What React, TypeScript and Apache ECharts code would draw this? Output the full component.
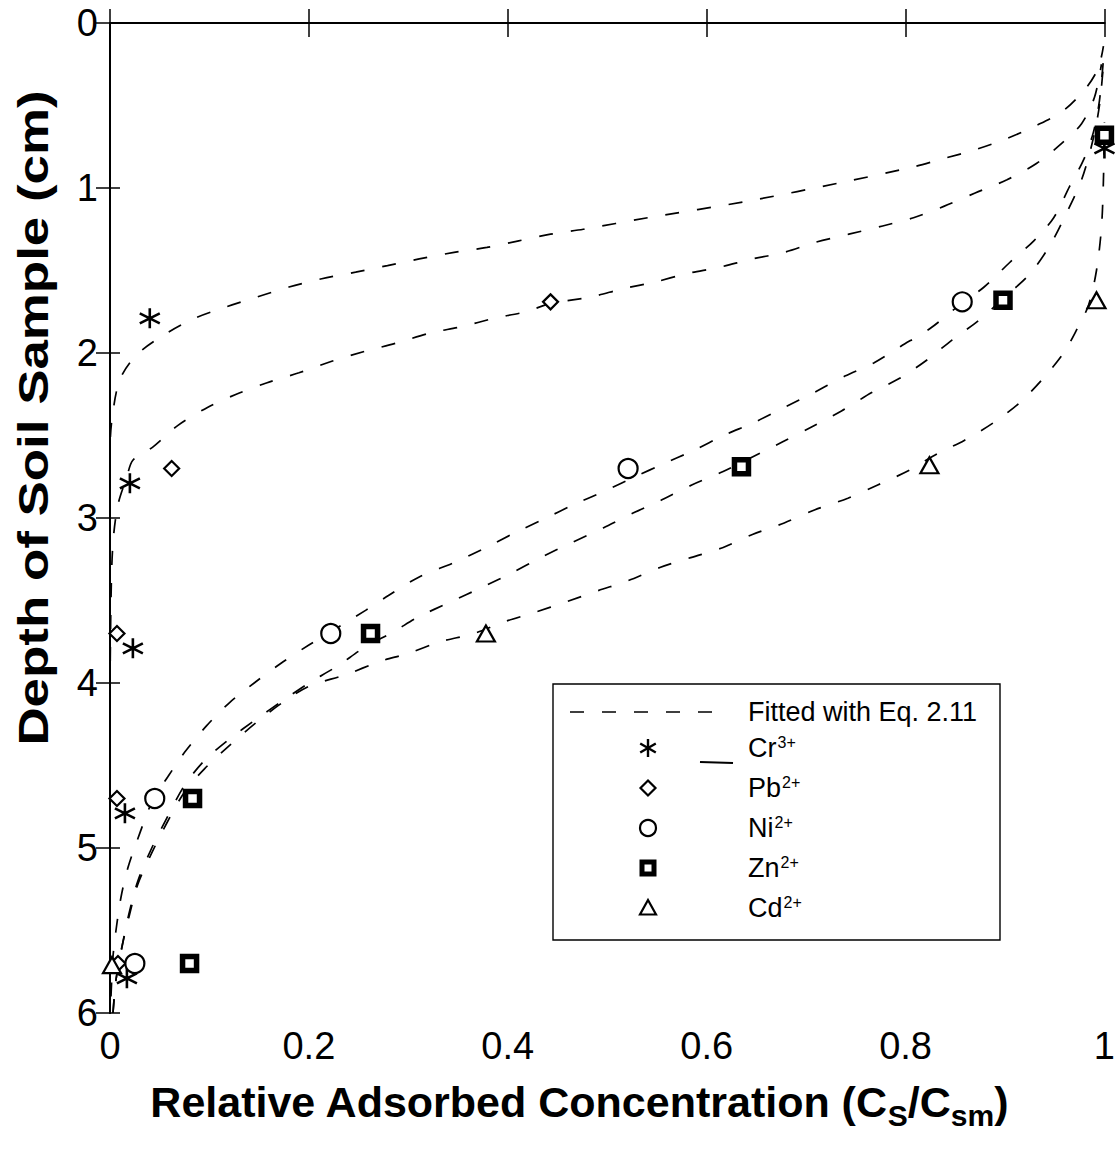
import React, { useEffect, useRef } from 'react';
import * as echarts from 'echarts';

const FIT_NAME = 'Fitted with Eq. 2.11';
const FONT = '"Liberation Sans", Arial, Helvetica, sans-serif';

// Fitted curves [relative concentration, depth]
const crFit: number[][] = [
  [0.0, 6.0], [0.0, 4.0], [0.0, 3.0], [0.0, 2.6], [0.002, 2.4], [0.01, 2.16], [0.027, 2.01], [0.057, 1.88],
  [0.085, 1.79], [0.117, 1.72], [0.148, 1.66], [0.18, 1.6], [0.213, 1.55], [0.247, 1.51], [0.279, 1.47],
  [0.311, 1.43], [0.346, 1.39], [0.379, 1.36], [0.411, 1.32], [0.443, 1.28], [0.476, 1.25], [0.541, 1.18],
  [0.641, 1.08], [0.741, 0.96], [0.809, 0.87], [0.839, 0.82], [0.869, 0.77], [0.902, 0.7], [0.932, 0.62],
  [0.959, 0.53], [0.982, 0.39], [0.994, 0.27], [0.999, 0.14],
];
const pbFit: number[][] = [
  [0.0, 6.0], [0.0, 4.2], [0.001, 3.5], [0.003, 3.15], [0.008, 2.92], [0.017, 2.75], [0.023, 2.65],
  [0.043, 2.57], [0.068, 2.44], [0.098, 2.33], [0.127, 2.25], [0.158, 2.18], [0.19, 2.12], [0.223, 2.05],
  [0.256, 1.99], [0.288, 1.94], [0.321, 1.88], [0.354, 1.84], [0.386, 1.79], [0.418, 1.75], [0.443, 1.7],
  [0.484, 1.66], [0.516, 1.61], [0.548, 1.57], [0.579, 1.52], [0.613, 1.48], [0.646, 1.43], [0.678, 1.39],
  [0.709, 1.33], [0.743, 1.28], [0.777, 1.23], [0.808, 1.18], [0.839, 1.11], [0.87, 1.03], [0.902, 0.95],
  [0.932, 0.85], [0.957, 0.73], [0.977, 0.61], [0.99, 0.45], [0.997, 0.25],
];
const niFit: number[][] = [
  [0.001, 5.9], [0.003, 5.66], [0.006, 5.5], [0.011, 5.3], [0.018, 5.12], [0.03, 4.91], [0.043, 4.71],
  [0.058, 4.57], [0.075, 4.42], [0.097, 4.26], [0.12, 4.12], [0.145, 4.0], [0.172, 3.88], [0.2, 3.77],
  [0.257, 3.56], [0.28, 3.47], [0.31, 3.36], [0.346, 3.27], [0.378, 3.18], [0.407, 3.09], [0.435, 3.01],
  [0.466, 2.92], [0.496, 2.84], [0.528, 2.75], [0.557, 2.67], [0.587, 2.59], [0.617, 2.5], [0.648, 2.42],
  [0.678, 2.33], [0.708, 2.24], [0.739, 2.14], [0.768, 2.06], [0.795, 1.96], [0.825, 1.85], [0.852, 1.72],
  [0.879, 1.6], [0.905, 1.45], [0.929, 1.32], [0.949, 1.18], [0.965, 0.99], [0.979, 0.83], [0.989, 0.66],
  [0.995, 0.47], [0.999, 0.22],
];
const znFit: number[][] = [
  [0.003, 6.0], [0.006, 5.8], [0.012, 5.6], [0.019, 5.4], [0.028, 5.2], [0.042, 5.0], [0.057, 4.82],
  [0.075, 4.62], [0.095, 4.47], [0.12, 4.34], [0.147, 4.22], [0.173, 4.11], [0.2, 4.0], [0.228, 3.9],
  [0.257, 3.78], [0.285, 3.69], [0.31, 3.6], [0.342, 3.51], [0.374, 3.42], [0.405, 3.33], [0.433, 3.24],
  [0.464, 3.15], [0.496, 3.06], [0.526, 2.97], [0.555, 2.89], [0.585, 2.8], [0.616, 2.72], [0.646, 2.63],
  [0.676, 2.54], [0.705, 2.45], [0.736, 2.35], [0.766, 2.24], [0.795, 2.15], [0.822, 2.04], [0.847, 1.92],
  [0.874, 1.8], [0.9, 1.66], [0.925, 1.52], [0.945, 1.35], [0.962, 1.15], [0.977, 0.95], [0.988, 0.72],
  [0.995, 0.5], [0.999, 0.25],
];
const cdFit: number[][] = [
  [0.003, 6.0], [0.006, 5.8], [0.012, 5.6], [0.019, 5.42], [0.028, 5.22], [0.042, 5.03], [0.057, 4.85],
  [0.075, 4.66], [0.095, 4.52], [0.12, 4.38], [0.147, 4.24], [0.173, 4.12], [0.2, 4.02], [0.237, 3.95],
  [0.271, 3.87], [0.3, 3.82], [0.332, 3.75], [0.366, 3.7], [0.396, 3.63], [0.428, 3.57], [0.458, 3.51],
  [0.491, 3.44], [0.521, 3.38], [0.553, 3.3], [0.584, 3.24], [0.616, 3.18], [0.646, 3.1], [0.678, 3.03],
  [0.709, 2.95], [0.742, 2.88], [0.772, 2.8], [0.804, 2.71], [0.832, 2.61], [0.859, 2.53], [0.889, 2.42],
  [0.915, 2.3], [0.939, 2.15], [0.959, 2.0], [0.972, 1.86], [0.984, 1.71], [0.992, 1.5], [0.997, 1.24],
  [0.999, 0.95], [1.0, 0.6],
];

// Measured points
const crPts: number[][] = [[1.0, 0.76], [0.04, 1.79], [0.02, 2.79], [0.023, 3.79], [0.015, 4.79], [0.017, 5.79]];
const pbPts: number[][] = [[0.443, 1.69], [0.062, 2.7], [0.007, 3.7], [0.007, 4.7], [0.008, 5.7]];
const niPts: number[][] = [[0.857, 1.69], [0.521, 2.7], [0.222, 3.7], [0.045, 4.7], [0.025, 5.7]];
const znPts: number[][] = [[1.0, 0.68], [0.898, 1.68], [0.635, 2.69], [0.262, 3.7], [0.083, 4.7], [0.08, 5.7]];
const cdPts: number[][] = [[0.992, 1.68], [0.824, 2.68], [0.378, 3.7], [0.002, 5.71]];

const ionNames = ['Cr', 'Pb', 'Ni', 'Zn', 'Cd'];
const ionCharges = ['3+', '2+', '2+', '2+', '2+'];

const ASTERISK = 'path://M10,0L10,20M1.34,5L18.66,15M1.34,15L18.66,5';

export default function App() {
  const ref = useRef<HTMLDivElement>(null);
  useEffect(() => {
    if (!ref.current) return;
    const chart = echarts.init(ref.current, undefined, { renderer: 'svg' });

    const fitSeries = [crFit, pbFit, niFit, znFit, cdFit].map((d) => ({
      name: FIT_NAME,
      type: 'line',
      data: d,
      symbol: 'none',
      smooth: 0.3,
      silent: true,
      clip: true,
      lineStyle: { color: '#000', width: 1.7, type: [14, 18] },
      z: 2,
    }));

    const pointStyle = { color: '#fff', borderColor: '#000', borderWidth: 2.2, opacity: 1 };
    const scatterSeries = [
      { name: 'Cr', data: crPts, symbol: ASTERISK, symbolSize: 20, itemStyle: { color: 'none', borderColor: '#000', borderWidth: 2.6, opacity: 1 } },
      { name: 'Pb', data: pbPts, symbol: 'diamond', symbolSize: 15, itemStyle: pointStyle },
      { name: 'Ni', data: niPts, symbol: 'circle', symbolSize: 19, itemStyle: pointStyle },
      { name: 'Zn', data: znPts, symbol: 'rect', symbolSize: 14, itemStyle: { color: '#fff', borderColor: '#000', borderWidth: 5.5, opacity: 1 } },
      { name: 'Cd', data: cdPts, symbol: 'triangle', symbolSize: [18, 16], itemStyle: pointStyle },
    ].map((s) => ({ ...s, type: 'scatter', clip: false, silent: true, z: 3 }));

    const axisLine = { show: true, lineStyle: { color: '#000', width: 2 } };
    const axisTick = { show: true, inside: true, length: 14, lineStyle: { color: '#000', width: 1.5 } };
    const labelStyle = { color: '#000', fontSize: 38, fontFamily: FONT };

    const legendX = 553, legendY = 684, legendW = 447, legendH = 256;
    const markX = 648, textX = 748;
    const rows = [748, 788, 828, 868, 908];
    const legendEls: any[] = [
      { type: 'rect', shape: { x: legendX, y: legendY, width: legendW, height: legendH }, style: { fill: '#fff', stroke: '#000', lineWidth: 1.4 }, z: 10 },
      { type: 'line', shape: { x1: 570, y1: 712, x2: 722, y2: 712 }, style: { stroke: '#000', lineWidth: 1.7, lineDash: [14, 18] }, z: 11 },
      { type: 'text', x: textX, y: 712, style: { text: FIT_NAME, fontSize: 27, fontFamily: FONT, fill: '#000', verticalAlign: 'middle', align: 'left' }, z: 11 },
      { type: 'line', shape: { x1: 700, y1: 762, x2: 733, y2: 763 }, style: { stroke: '#000', lineWidth: 2.2 }, z: 11 },
    ];
    ionNames.forEach((n, i) => {
      const y = rows[i];
      legendEls.push({
        type: 'text', x: textX, y, z: 11,
        style: {
          text: `{b|${n}}{s|${ionCharges[i]}}`, verticalAlign: 'middle', align: 'left', fill: '#000',
          rich: {
            b: { fontSize: 27, fontFamily: FONT, fill: '#000' },
            s: { fontSize: 16, fontFamily: FONT, fill: '#000', padding: [0, 0, 12, 1] },
          },
        },
      });
    });
    const st = { fill: '#fff', stroke: '#000', lineWidth: 2.2 };
    legendEls.push({
      type: 'group', z: 11, children: [
        { type: 'line', shape: { x1: markX, y1: rows[0] - 9, x2: markX, y2: rows[0] + 9 }, style: { stroke: '#000', lineWidth: 2.4 }, z: 11 },
        { type: 'line', shape: { x1: markX - 7.8, y1: rows[0] - 4.5, x2: markX + 7.8, y2: rows[0] + 4.5 }, style: { stroke: '#000', lineWidth: 2.4 }, z: 11 },
        { type: 'line', shape: { x1: markX - 7.8, y1: rows[0] + 4.5, x2: markX + 7.8, y2: rows[0] - 4.5 }, style: { stroke: '#000', lineWidth: 2.4 }, z: 11 },
      ],
    });
    legendEls.push({ type: 'polygon', z: 11, shape: { points: [[markX, rows[1] - 7.5], [markX + 7.5, rows[1]], [markX, rows[1] + 7.5], [markX - 7.5, rows[1]]] }, style: st });
    legendEls.push({ type: 'circle', z: 11, shape: { cx: markX, cy: rows[2], r: 8 }, style: st });
    legendEls.push({ type: 'rect', z: 11, shape: { x: markX - 6, y: rows[3] - 6, width: 12, height: 12 }, style: { fill: '#fff', stroke: '#000', lineWidth: 5 } });
    legendEls.push({ type: 'polygon', z: 11, shape: { points: [[markX, rows[4] - 8], [markX + 8, rows[4] + 6.5], [markX - 8, rows[4] + 6.5]] }, style: st });

    const option: any = {
      animation: false,
      backgroundColor: '#fff',
      grid: { left: 110, top: 23, width: 998, height: 990, containLabel: false },
      xAxis: [
        {
          type: 'value', min: 0, max: 1, interval: 0.2, position: 'bottom',
          axisLine, axisTick, splitLine: { show: false },
          axisLabel: { ...labelStyle, margin: 14 },
        },
        {
          type: 'value', min: 0, max: 1, interval: 0.2, position: 'top',
          axisLine, axisTick, splitLine: { show: false }, axisLabel: { show: false },
        },
      ],
      yAxis: [
        {
          type: 'value', min: 0, max: 6, interval: 1, inverse: true, position: 'left',
          axisLine, axisTick: { ...axisTick, length: 10 }, splitLine: { show: false },
          axisLabel: { ...labelStyle, margin: 12 },
        },
        {
          type: 'value', min: 0, max: 6, interval: 1, inverse: true, position: 'right',
          axisLine, axisTick, splitLine: { show: false }, axisLabel: { show: false },
        },
      ],
      series: [...fitSeries, ...scatterSeries],
      graphic: [
        {
          type: 'text', x: 33, y: 418, rotation: Math.PI / 2, scaleX: 1.23,
          style: {
            text: 'Depth of Soil Sample (cm)', fontSize: 43, fontWeight: 'bold', fontFamily: FONT,
            fill: '#000', align: 'center', verticalAlign: 'middle',
          },
        },
        {
          type: 'text', x: 579, y: 1102,
          style: {
            text: '{m|Relative Adsorbed Concentration (C}{s|S}{m|/C}{s|sm}{m|)}',
            align: 'center', verticalAlign: 'middle', fill: '#000',
            rich: {
              m: { fontSize: 43, fontWeight: 'bold', fontFamily: FONT, fill: '#000' },
              s: { fontSize: 30, fontWeight: 'bold', fontFamily: FONT, fill: '#000', padding: [26, 0, 0, 0] },
            },
          },
        },
        ...legendEls,
      ],
    };
    chart.setOption(option);
    return () => chart.dispose();
  }, []);
  return (
    <div
      ref={ref}
      style={{ position: 'absolute', left: 0, top: 0, width: 1118, height: 1151, background: '#fff' }}
    />
  );
}
